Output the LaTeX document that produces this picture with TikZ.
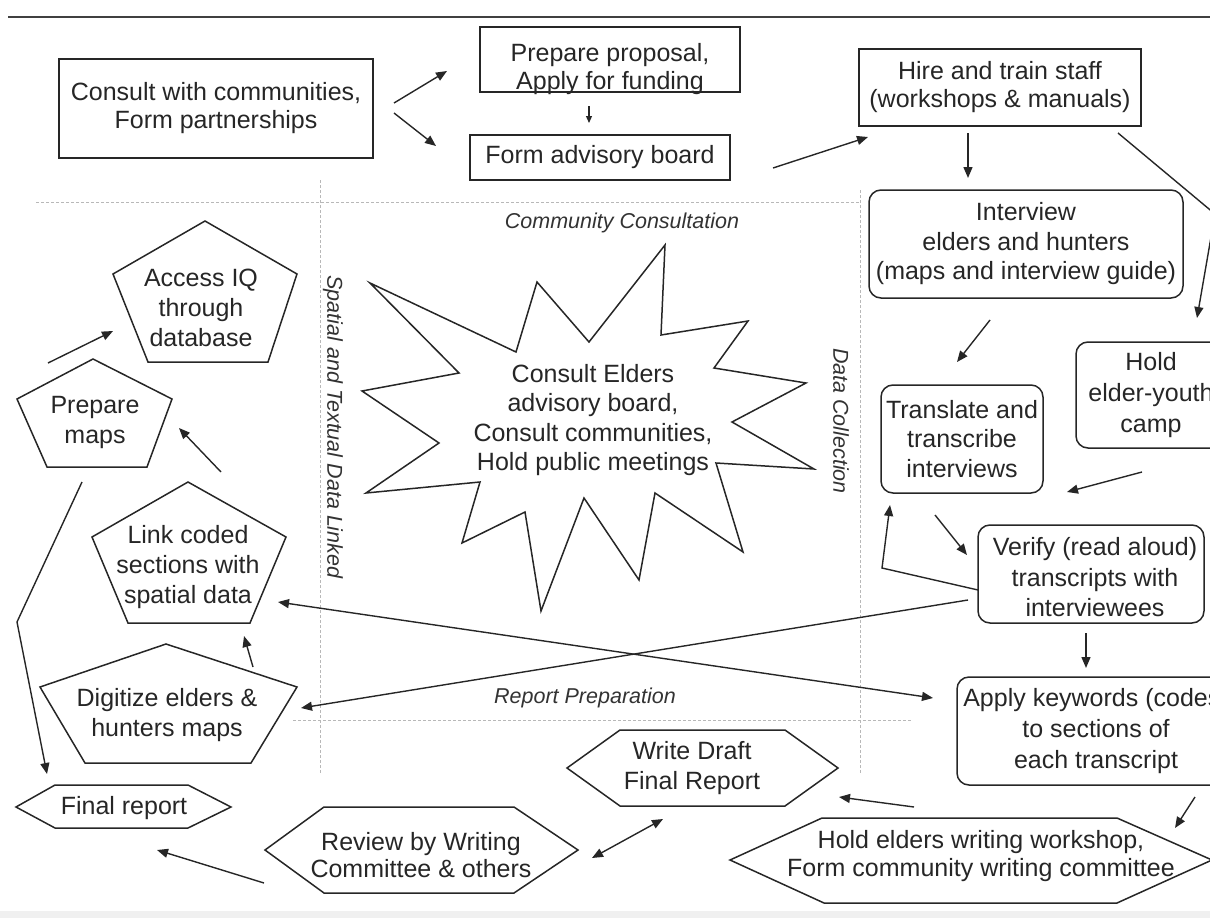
\documentclass[tikz,border=0pt]{standalone}
\usepackage{fontspec}
\setmainfont{Liberation Sans}
\usetikzlibrary{arrows.meta}
\newcommand\mainfs{\fontsize{25}{29.5}\selectfont}
\newcommand\tagfs{\fontsize{21.5}{24}\selectfont\itshape}
\begin{document}
\begin{tikzpicture}[x=1pt,y=-1pt,
  ink/.style={draw=black!85, line width=1.5pt, line join=miter},
  boxnode/.style={ink, rectangle, inner sep=0pt, align=center, font=\mainfs, text=black!85},
  roundnode/.style={boxnode, rounded corners=12pt},
  txt/.style={inner sep=0pt, align=center, font=\mainfs, text=black!85},
  tag/.style={inner sep=0pt, font=\tagfs, text=black!80},
  link/.style={draw=black!85, line width=1.4pt, -{Triangle[length=11pt,width=9pt]}},
  twoway/.style={draw=black!85, line width=1.4pt, {Triangle[length=11pt,width=9pt]}-{Triangle[length=11pt,width=9pt]}},
  shortlink/.style={draw=black!85, line width=1.2pt, -{Triangle[length=7pt,width=6pt]}},
  divider/.style={draw=black!28, line width=1pt, dash pattern=on 3pt off 2pt},
]
\useasboundingbox (0,0) rectangle (1210,918);
\clip (0,0) rectangle (1210,918);

% page rule and bottom band
\fill[black!6] (0,911) rectangle (1210,918);
\draw[draw=black!75, line width=2.5pt] (8,17) -- (1210,17);

% phase dividers
\draw[divider] (36,202) -- (860,202);
\draw[divider] (320,180) -- (320,773);
\draw[divider] (860,190) -- (860,773);
\draw[divider] (293,720) -- (911,720);

% phase labels
\node[tag] (lcomm) at (622,223) {Community Consultation};
\node[tag] (lrep) at (585,698) {Report Preparation};
\node[tag, rotate=-90] (lspat) at (333,427) {Spatial and Textual Data Linked};
\node[tag, rotate=-90] (ldata) at (841,421) {Data Collection};

% project start-up boxes
\node[boxnode, minimum width=314pt, minimum height=99pt, font=\fontsize{25}{28}\selectfont] (consult) at (216,108.5)
  {Consult with communities,\\Form partnerships};
\node[boxnode, minimum width=260pt, minimum height=65pt] (prep) at (610,59.5) {};
\node[txt, font=\fontsize{25}{28}\selectfont] (preptext) at (610,69) {Prepare proposal,\\Apply for funding};
\node[boxnode, minimum width=260pt, minimum height=45pt] (advis) at (600,157.5) {Form advisory board};
\node[boxnode, minimum width=282pt, minimum height=77pt, font=\fontsize{25}{28}\selectfont] (hire) at (1000,87.5)
  {Hire and train staff\\(workshops \& manuals)};

% data collection boxes
\node[roundnode, minimum width=314pt, minimum height=108pt] (interview) at (1026,244)
  {Interview\\elders and hunters\\(maps and interview guide)};
\node[roundnode, minimum width=162pt, minimum height=108pt] (translate) at (962,439)
  {Translate and\\transcribe\\interviews};
\node[roundnode, minimum width=150pt, minimum height=106pt, font=\fontsize{25}{31}\selectfont] (camp) at (1151,395)
  {Hold\\elder-youth\\camp};
\node[roundnode, minimum width=226pt, minimum height=98pt] (verify) at (1091,574) {};
\node[txt, font=\fontsize{25}{30.5}\selectfont] (verifytext) at (1095,577.5)
  {Verify (read aloud)\\transcripts with\\interviewees};
\node[roundnode, minimum width=278pt, minimum height=108pt, font=\fontsize{25}{31}\selectfont] (apply) at (1096,731)
  {Apply keywords (codes)\\to sections of\\each transcript};

% central consultation burst
\draw[ink, fill=white]
  (665,245) -- (661,335) -- (748,321) -- (714,368) -- (806,383) -- (732,422)
  -- (814,469) -- (716,463) -- (743,552) -- (655,493) -- (639,580) -- (584,498)
  -- (541,611) -- (525,512) -- (462,543) -- (480,482) -- (366,493) -- (439,443)
  -- (362,391) -- (459,373) -- (370,283) -- (516,352) -- (537,282) -- (589,342)
  -- cycle;
\node[txt, font=\fontsize{25}{29.3}\selectfont] (burst) at (593,420)
  {Consult Elders\\advisory board,\\Consult communities,\\Hold public meetings};

% spatial data pentagons
\draw[ink] (205,221) -- (297,274) -- (268,362) -- (148,362) -- (113,274) -- cycle;
\node[txt, font=\fontsize{25}{30}\selectfont] (access) at (201,308) {Access IQ\\through\\database};
\draw[ink] (93,359) -- (172,399) -- (147,467) -- (47,467) -- (17,399) -- cycle;
\node[txt] (maps) at (95,422.5) {Prepare\\maps};
\draw[ink] (188,482) -- (286,537) -- (250,623) -- (128,623) -- (92,537) -- cycle;
\node[txt, font=\fontsize{25}{30}\selectfont] (linkc) at (188,567.5) {Link coded\\sections with\\spatial data};
\draw[ink] (166,644) -- (297,687) -- (251,763) -- (85,763) -- (40,687) -- cycle;
\node[txt, font=\fontsize{25}{30}\selectfont] (digit) at (167,715) {Digitize elders \&\\hunters maps};

% report hexagons
\draw[ink] (16,807) -- (55,785) -- (188,785) -- (231,807) -- (188,828) -- (55,828) -- cycle;
\node[txt] (final) at (124,808) {Final report};
\draw[ink] (265,850) -- (324,807) -- (514,807) -- (578,850) -- (514,893) -- (324,893) -- cycle;
\node[txt, font=\fontsize{25}{27}\selectfont] (review) at (421,855) {Review by Writing\\Committee \& others};
\draw[ink] (567,768) -- (620,730) -- (785,730) -- (838,768) -- (785,806) -- (620,806) -- cycle;
\node[txt, font=\fontsize{25}{30}\selectfont] (draft) at (692,768) {Write Draft\\Final Report};
\draw[ink] (730,860) -- (822,818) -- (1117,818) -- (1212,860) -- (1117,903) -- (824,903) -- cycle;
\node[txt, font=\fontsize{25}{28}\selectfont] (workshop) at (981,856) {Hold elders writing workshop,\\Form community writing committee};

% connector end points
\coordinate (c1a) at (394,103);  \coordinate (c1b) at (447,71);
\coordinate (c2a) at (394,113);  \coordinate (c2b) at (436,146);
\coordinate (c3a) at (589,106);  \coordinate (c3b) at (589,123);
\coordinate (c4a) at (773,168);  \coordinate (c4b) at (868,137);
\coordinate (c5a) at (968,133);  \coordinate (c5b) at (968,178);
\coordinate (c6a) at (1118,133); \coordinate (c6m) at (1215,214); \coordinate (c6b) at (1197,318);
\coordinate (c7a) at (990,320);  \coordinate (c7b) at (957,362);
\coordinate (c8a) at (1142,472); \coordinate (c8b) at (1067,492);
\coordinate (c9a) at (935,515);  \coordinate (c9b) at (967,555);
\coordinate (c10a) at (978,590); \coordinate (c10m) at (882,568); \coordinate (c10b) at (890,505);
\coordinate (c11a) at (968,600); \coordinate (c11b) at (301,708);
\coordinate (c12a) at (278,602); \coordinate (c12b) at (933,698);
\coordinate (c13a) at (1086,633);\coordinate (c13b) at (1086,668);
\coordinate (c14a) at (1195,797);\coordinate (c14b) at (1175,828);
\coordinate (c15a) at (914,807); \coordinate (c15b) at (839,797);
\coordinate (c16a) at (592,858); \coordinate (c16b) at (663,819);
\coordinate (c17a) at (264,883); \coordinate (c17b) at (157,850);
\coordinate (c18a) at (82,482);  \coordinate (c18m) at (17,622); \coordinate (c18b) at (47,774);
\coordinate (c19a) at (221,472); \coordinate (c19b) at (179,428);
\coordinate (c20a) at (48,363);  \coordinate (c20b) at (113,331);
\coordinate (c21a) at (253,667); \coordinate (c21b) at (244,636);

% connectors
\draw[link] (c1a) -- (c1b);
\draw[link] (c2a) -- (c2b);
\draw[shortlink] (c3a) -- (c3b);
\draw[link] (c4a) -- (c4b);
\draw[link] (c5a) -- (c5b);
\draw[link] (c6a) -- (c6m) -- (c6b);
\draw[link] (c7a) -- (c7b);
\draw[link] (c8a) -- (c8b);
\draw[link] (c9a) -- (c9b);
\draw[link] (c10a) -- (c10m) -- (c10b);
\draw[link] (c11a) -- (c11b);
\draw[twoway] (c12a) -- (c12b);
\draw[link] (c13a) -- (c13b);
\draw[link] (c14a) -- (c14b);
\draw[link] (c15a) -- (c15b);
\draw[twoway] (c16a) -- (c16b);
\draw[link] (c17a) -- (c17b);
\draw[link] (c18a) -- (c18m) -- (c18b);
\draw[link] (c19a) -- (c19b);
\draw[link] (c20a) -- (c20b);
\draw[link] (c21a) -- (c21b);
\end{tikzpicture}
\end{document}
